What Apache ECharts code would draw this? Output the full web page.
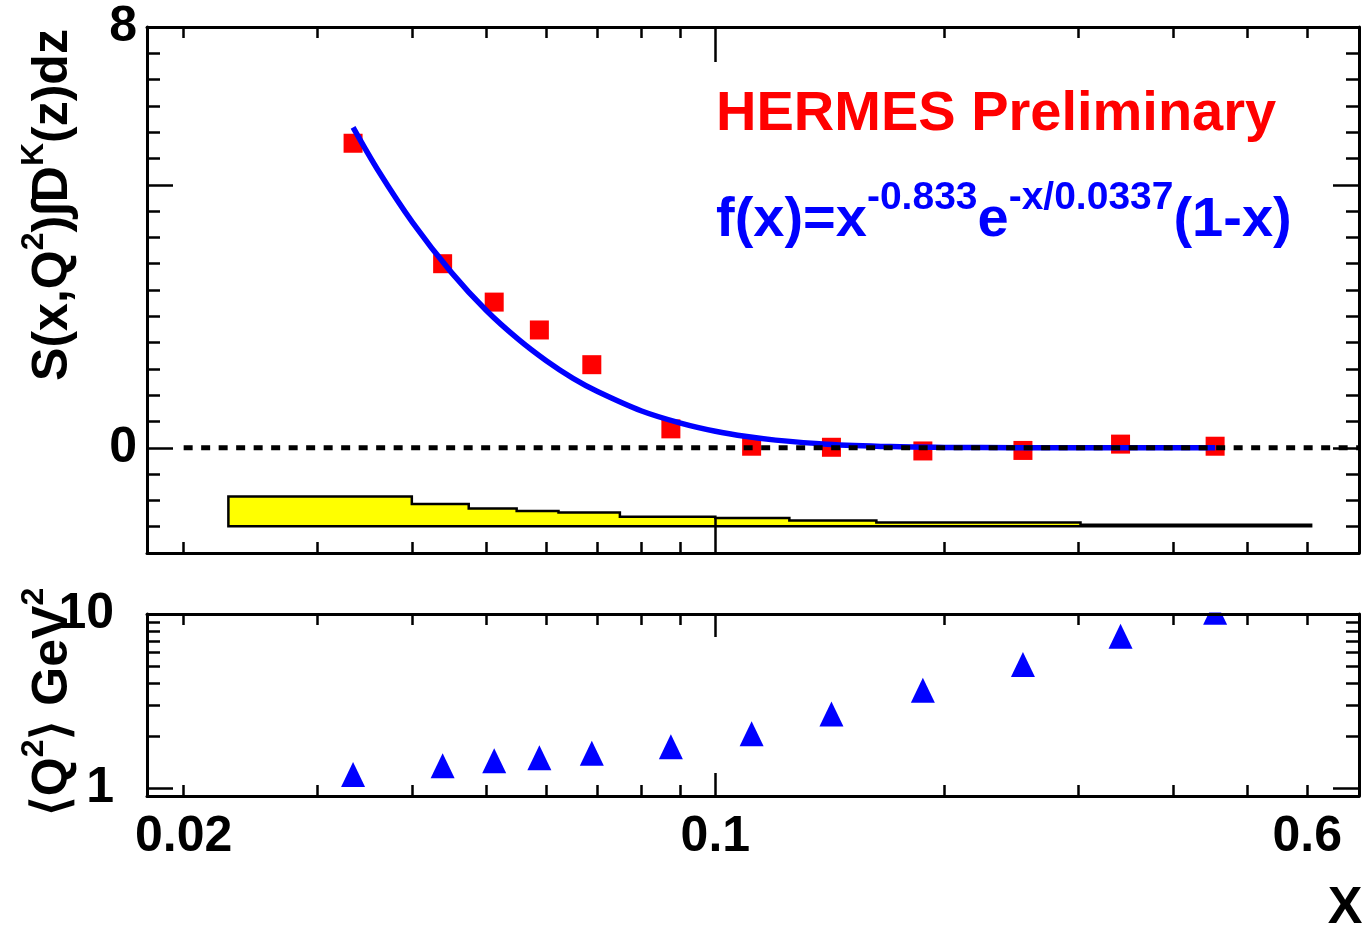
<!DOCTYPE html>
<html>
<head>
<meta charset="utf-8">
<script src="https://cdn.jsdelivr.net/npm/echarts@6/dist/echarts.min.js"></script>
<style>html,body{margin:0;padding:0;background:#fff;}#c{width:1362px;height:930px;}</style>
</head>
<body>
<div id="c"></div>
<script>
// ---------- data ----------
const xPoints  = [0.0334, 0.0438, 0.0512, 0.0587, 0.0688, 0.0874, 0.1116, 0.1421, 0.1874, 0.2537, 0.3409, 0.4539];
const sValues  = [5.79, 3.50, 2.77, 2.24, 1.58, 0.36, 0.03, 0.01, -0.06, -0.05, 0.07, 0.03];
const q2Values = [1.20, 1.35, 1.44, 1.50, 1.59, 1.73, 2.06, 2.67, 3.65, 5.14, 7.46, 10.23];
// fit curve
const fitX = [0.0334, 0.036, 0.04, 0.045, 0.05, 0.055, 0.06, 0.065, 0.07, 0.08, 0.09, 0.1, 0.11, 0.12, 0.14, 0.17, 0.2, 0.25, 0.3, 0.38, 0.454];
const fitY = [6.09, 5.28, 4.28, 3.33, 2.61, 2.07, 1.65, 1.32, 1.07, 0.70, 0.47, 0.315, 0.214, 0.146, 0.069, 0.023, 0.008, 0.0014, 0.0003, 0, 0];
// systematic band (step histogram)
const bandEdges = [0.0229, 0.0399, 0.0474, 0.0548, 0.0622, 0.0749, 0.1, 0.1251, 0.1628, 0.302, 0.607];
const bandTop   = [-0.925, -1.07, -1.153, -1.203, -1.229, -1.311, -1.336, -1.381, -1.419, -1.463];
const bandBase  = -1.49;
// axes
const X_MIN = 0.0179, X_MAX = 0.7016;
const Y1_MIN = -2, Y1_MAX = 8;
const Y2_MIN = 0.904, Y2_MAX = 10;
const xMinorTicks = [0.02, 0.03, 0.04, 0.05, 0.06, 0.07, 0.08, 0.09, 0.2, 0.3, 0.4, 0.5, 0.6];
const xMajorTicks = [0.1];
const xTickLabels = [0.02, 0.1, 0.6];
const y1MinorTicks = [-1.5, -1, -0.5, 0.5, 1, 1.5, 2, 2.5, 3, 3.5, 4, 4.5, 5.5, 6, 6.5, 7, 7.5];
const y1MajorTicks = [0, 5];
const y1TickLabels = [0, 8];
const y2MinorTicks = [2, 3, 4, 5, 6, 7, 8, 9];
const y2MajorTicks = [1, 10];
const y2TickLabels = [1, 10];

// ---------- chart ----------
const FONT = "'Liberation Sans', Arial, Helvetica, sans-serif";
const L = v => Math.log10(v);
const LX0 = L(X_MIN), LX1 = L(X_MAX), LY0 = L(Y2_MIN), LY1 = L(Y2_MAX);
const labelStyle = {fontFamily: FONT, fontWeight: 'bold', fontSize: 50, color: '#000'};

function findLabel(list, v, logged) {
  for (const l of list) { const lv = logged ? L(l) : l; if (Math.abs(lv - v) < 1e-6) return String(l); }
  return '';
}

function xOverlay(grid, pos, ticks, len, line, labels) {
  return {
    type: 'value', gridIndex: grid, position: pos, min: LX0, max: LX1, z: 10,
    axisLine: {show: line, onZero: false, lineStyle: {color: '#000', width: 3}},
    axisTick: {show: true, inside: true, length: len, customValues: ticks.map(L), lineStyle: {color: '#000', width: 2.5}},
    axisLabel: labels ? Object.assign({show: true, margin: 16, customValues: labels.map(L),
      formatter: v => findLabel(labels, v, true)}, labelStyle) : {show: false},
    splitLine: {show: false}
  };
}
function yOverlay(grid, pos, mn, mx, ticks, len, line, labels, logged, margin) {
  return {
    type: 'value', gridIndex: grid, position: pos, min: mn, max: mx, z: 10,
    axisLine: {show: line, onZero: false, lineStyle: {color: '#000', width: 3}},
    axisTick: {show: true, inside: true, length: len, customValues: logged ? ticks.map(L) : ticks, lineStyle: {color: '#000', width: 2.5}},
    axisLabel: labels ? Object.assign({show: true, margin: margin, customValues: logged ? labels.map(L) : labels,
      formatter: v => findLabel(labels, v, logged)}, labelStyle) : {show: false},
    splitLine: {show: false}
  };
}

const chart = echarts.init(document.getElementById('c'), null, {renderer: 'canvas'});
const option = {
  animation: false,
  backgroundColor: '#fff',
  grid: [
    {left: 147, right: 3, top: 27, height: 526},
    {left: 147, right: 3, top: 614, height: 182}
  ],
  xAxis: [
    {type: 'log', gridIndex: 0, min: X_MIN, max: X_MAX, show: false},
    {type: 'log', gridIndex: 1, min: X_MIN, max: X_MAX, show: false},
    xOverlay(0, 'bottom', xMinorTicks, 11, true, null),
    xOverlay(0, 'bottom', xMajorTicks, 35, false, null),
    xOverlay(0, 'top', xMinorTicks, 11, true, null),
    xOverlay(0, 'top', xMajorTicks, 35, false, null),
    xOverlay(1, 'bottom', xMinorTicks, 11, true, xTickLabels),
    xOverlay(1, 'bottom', xMajorTicks, 23, false, null),
    xOverlay(1, 'top', xMinorTicks, 11, true, null),
    xOverlay(1, 'top', xMajorTicks, 23, false, null)
  ],
  yAxis: [
    yOverlay(0, 'left', Y1_MIN, Y1_MAX, y1MinorTicks, 13, true, y1TickLabels, false, 10),
    yOverlay(0, 'left', Y1_MIN, Y1_MAX, y1MajorTicks, 26, false, null, false, 0),
    yOverlay(0, 'right', Y1_MIN, Y1_MAX, y1MinorTicks, 13, true, null, false, 0),
    yOverlay(0, 'right', Y1_MIN, Y1_MAX, y1MajorTicks, 26, false, null, false, 0),
    {type: 'log', gridIndex: 1, min: Y2_MIN, max: Y2_MAX, show: false},
    yOverlay(1, 'left', LY0, LY1, y2MinorTicks, 13, true, y2TickLabels, true, 33),
    yOverlay(1, 'left', LY0, LY1, y2MajorTicks, 26, false, null, true, 0),
    yOverlay(1, 'right', LY0, LY1, y2MinorTicks, 13, true, null, true, 0),
    yOverlay(1, 'right', LY0, LY1, y2MajorTicks, 26, false, null, true, 0)
  ],
  series: [
    {
      type: 'custom', xAxisIndex: 0, yAxisIndex: 0, z: 1, silent: true,
      data: bandTop.map((t, i) => [bandEdges[i], t]),
      renderItem: function (params, api) {
        if (params.dataIndex !== 0) return null;
        const pts = [api.coord([bandEdges[0], bandBase])];
        for (let i = 0; i < bandTop.length; i++) {
          pts.push(api.coord([bandEdges[i], bandTop[i]]));
          pts.push(api.coord([bandEdges[i + 1], bandTop[i]]));
        }
        pts.push(api.coord([bandEdges[bandEdges.length - 1], bandBase]));
        return {type: 'polygon', shape: {points: pts}, style: {fill: '#ffff00', stroke: '#000', lineWidth: 2.5, lineJoin: 'miter'}};
      }
    },
    {
      type: 'scatter', xAxisIndex: 0, yAxisIndex: 0, z: 2,
      symbol: 'rect', symbolSize: 19, itemStyle: {color: '#ff0000', opacity: 1},
      data: xPoints.map((x, i) => [x, sValues[i]])
    },
    {
      type: 'line', xAxisIndex: 0, yAxisIndex: 0, z: 3, smooth: 0.3, symbol: 'none',
      lineStyle: {color: '#0000ff', width: 5.5},
      data: fitX.map((x, i) => [x, fitY[i]])
    },
    {
      type: 'line', xAxisIndex: 0, yAxisIndex: 0, z: 4, symbol: 'none',
      lineStyle: {color: '#000', width: 5, type: [9, 8.5], cap: 'butt'},
      data: [[0.02, 0], [X_MAX, 0]]
    },
    {
      type: 'scatter', xAxisIndex: 1, yAxisIndex: 4, z: 2, clip: false,
      symbol: 'triangle', symbolSize: [24, 25], itemStyle: {color: '#0000ff', opacity: 1},
      data: xPoints.map((x, i) => [x, q2Values[i]])
    }
  ],
  graphic: [
    {type: 'rect', z: 50, silent: true, shape: {x: 1180, y: 557, width: 70, height: 55.5}, style: {fill: '#fff'}},
    {type: 'text', z: 60, x: 716, y: 115, style: {
      text: 'HERMES Preliminary', fill: '#ff0000', font: 'bold 56px ' + FONT,
      textAlign: 'left', textVerticalAlign: 'middle', align: 'left', verticalAlign: 'middle'}},
    {type: 'text', z: 60, x: 716, y: 221, style: {
      text: 'f(x)=x{s|-0.833}e{s|-x/0.0337}(1-x)', fill: '#0000ff', font: 'bold 56px ' + FONT,
      lineHeight: 84, textAlign: 'left', textVerticalAlign: 'middle', align: 'left', verticalAlign: 'middle',
      rich: {s: {fill: '#0000ff', fontFamily: FONT, fontWeight: 'bold', fontSize: 39, verticalAlign: 'top'}}}},
    {type: 'text', z: 60, x: 53, y: 205, rotation: Math.PI / 2, style: {
      text: 'S(x,Q{s|2})\u222BD{s|K}(z)dz', fill: '#000', font: 'bold 50px ' + FONT,
      lineHeight: 70, textAlign: 'center', textVerticalAlign: 'middle', align: 'center', verticalAlign: 'middle',
      rich: {s: {fill: '#000', fontFamily: FONT, fontWeight: 'bold', fontSize: 32, verticalAlign: 'top'}}}},
    {type: 'text', z: 60, x: 53, y: 702, rotation: Math.PI / 2, style: {
      text: '\u27E8Q{s|2}\u27E9 GeV{s|2}', fill: '#000', font: 'bold 50px ' + FONT,
      lineHeight: 70, textAlign: 'center', textVerticalAlign: 'middle', align: 'center', verticalAlign: 'middle',
      rich: {s: {fill: '#000', fontFamily: FONT, fontWeight: 'bold', fontSize: 32, verticalAlign: 'top'}}}},
    {type: 'text', z: 60, x: 1345, y: 909, style: {
      text: 'X', fill: '#000', font: 'bold 52px ' + FONT,
      textAlign: 'center', textVerticalAlign: 'middle', align: 'center', verticalAlign: 'middle'}}
  ]
};
chart.setOption(option);
</script>
</body>
</html>
